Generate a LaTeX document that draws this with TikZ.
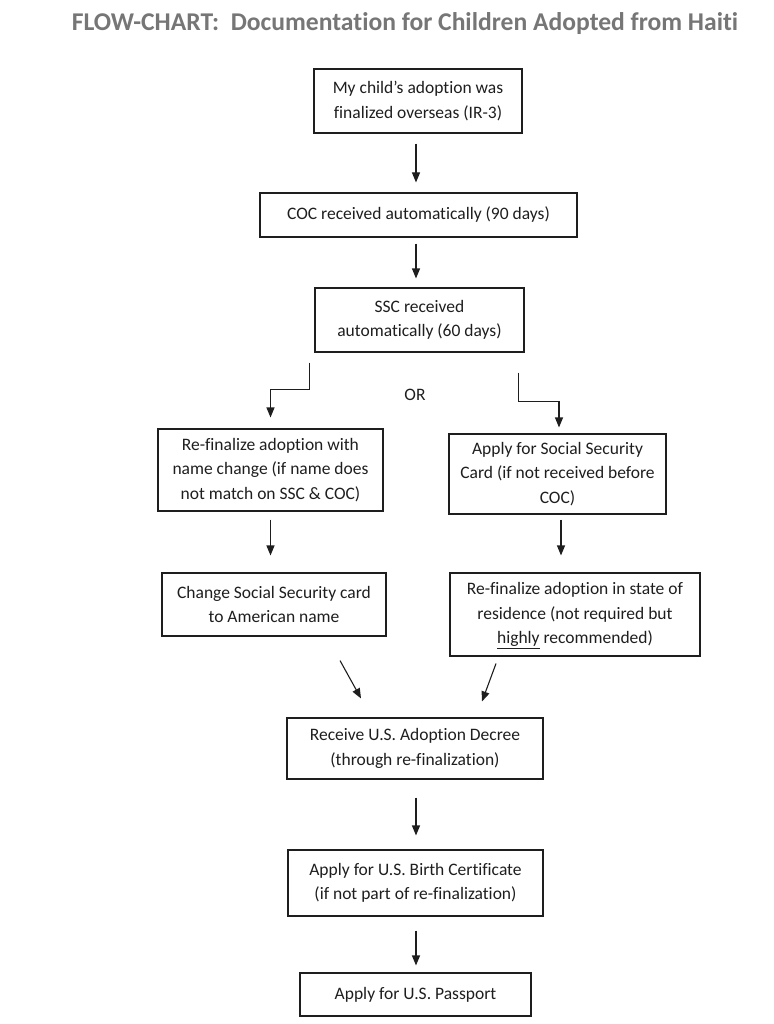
\documentclass[tikz,border=0pt]{standalone}
\usepackage{fontspec}
\setmainfont{Carlito}[Ligatures=NoCommon]
\usetikzlibrary{arrows.meta}
\definecolor{titlegray}{RGB}{118,118,118}
\definecolor{inkgray}{RGB}{30,30,30}
\begin{document}
\begin{tikzpicture}[
      x=1pt, y=-1pt,
      box/.style={rectangle, draw=inkgray, line width=1.1pt, align=center, inner sep=2pt,
        text=inkgray, font=\fontsize{17.5}{24.5}\selectfont},
      lowtext/.style={execute at begin node={\rule{0pt}{19pt}}},
      arr/.style={draw=inkgray, line width=1.1pt, -{Triangle[length=10pt,width=8pt]}}
    ]
    \useasboundingbox (0,0) rectangle (773,1024);

    \node[text=titlegray, font=\bfseries\fontsize{25.6}{30}\selectfont] (title) at (405,24)
      {FLOW-CHART:\ \ Documentation for Children Adopted from Haiti};

    % main column
    \coordinate (axis) at (416,0);
    \node[box, minimum width=208pt, minimum height=64pt] (overseas) at (418,101)
      {My child’s adoption was\\finalized overseas (IR-3)};
    \node[box, minimum width=317pt, minimum height=44pt] (coc) at (418.5,215)
      {COC received automatically (90 days)};
    \node[box, minimum width=209pt, minimum height=64pt] (ssc) at (419.5,320)
      {SSC received\\automatically (60 days)};

    \node[text=inkgray, font=\fontsize{17.5}{20}\selectfont] (or) at (415,395) {OR};

    % left branch
    \node[box, lowtext, minimum width=225pt, minimum height=82pt] (rename) at (270.5,470)
      {Re-finalize adoption with\\name change (if name does\\not match on SSC \& COC)};
    \node[box, minimum width=224pt, minimum height=63pt] (sscard) at (274,604.5)
      {Change Social Security card\\to American name};

    % right branch
    \node[box, lowtext, minimum width=217pt, minimum height=80pt] (apply) at (557.5,474)
      {Apply for Social Security\\Card (if not received before\\COC)};
    \node[box, lowtext, minimum width=250pt, minimum height=83pt] (state) at (575,614.5)
      {Re-finalize adoption in state of\\residence (not required but\\\smash{\underline{highly}} recommended)};

    % joined again
    \node[box, minimum width=256pt, minimum height=61pt] (decree) at (415,748.5)
      {Receive U.S. Adoption Decree\\(through re-finalization)};
    \node[box, minimum width=255pt, minimum height=66pt] (birth) at (415.5,883)
      {Apply for U.S. Birth Certificate\\(if not part of re-finalization)};
    \node[box, minimum width=231pt, minimum height=43pt] (passport) at (415.5,994.5)
      {Apply for U.S. Passport};

    \draw[arr, shorten <=10pt, shorten >=10pt] (overseas.south -| axis) -- (coc.north -| axis);
    \draw[arr, shorten <=6pt, shorten >=9pt] (coc.south -| axis) -- (ssc.north -| axis);
    \draw[arr] ([xshift=-5pt,yshift=-10pt]ssc.south west) -- ++(0,27) -| ([yshift=11pt]rename.north);
    \draw[arr] ([xshift=-6pt,yshift=-20pt]ssc.south east) -- ++(0,29) -| ([xshift=1.5pt,yshift=6pt]apply.north);
    \draw[arr, shorten <=8pt, shorten >=17pt] (rename.south) -- (rename.south |- sscard.north);
    \draw[arr, shorten <=5pt, shorten >=17pt] ([xshift=3.5pt]apply.south) -- ([xshift=3.5pt]apply.south |- state.north);
    \draw[arr] ([xshift=66pt,yshift=-24pt]sscard.south) -- ([xshift=-54pt,yshift=19pt]decree.north);
    \draw[arr] ([xshift=-79pt,yshift=-7pt]state.south) -- ([xshift=67pt,yshift=16pt]decree.north);
    \draw[arr, shorten <=18pt, shorten >=14pt] (decree.south -| axis) -- (birth.north -| axis);
    \draw[arr, shorten <=14pt, shorten >=7pt] (birth.south -| axis) -- (passport.north -| axis);

\end{tikzpicture}
\end{document}
